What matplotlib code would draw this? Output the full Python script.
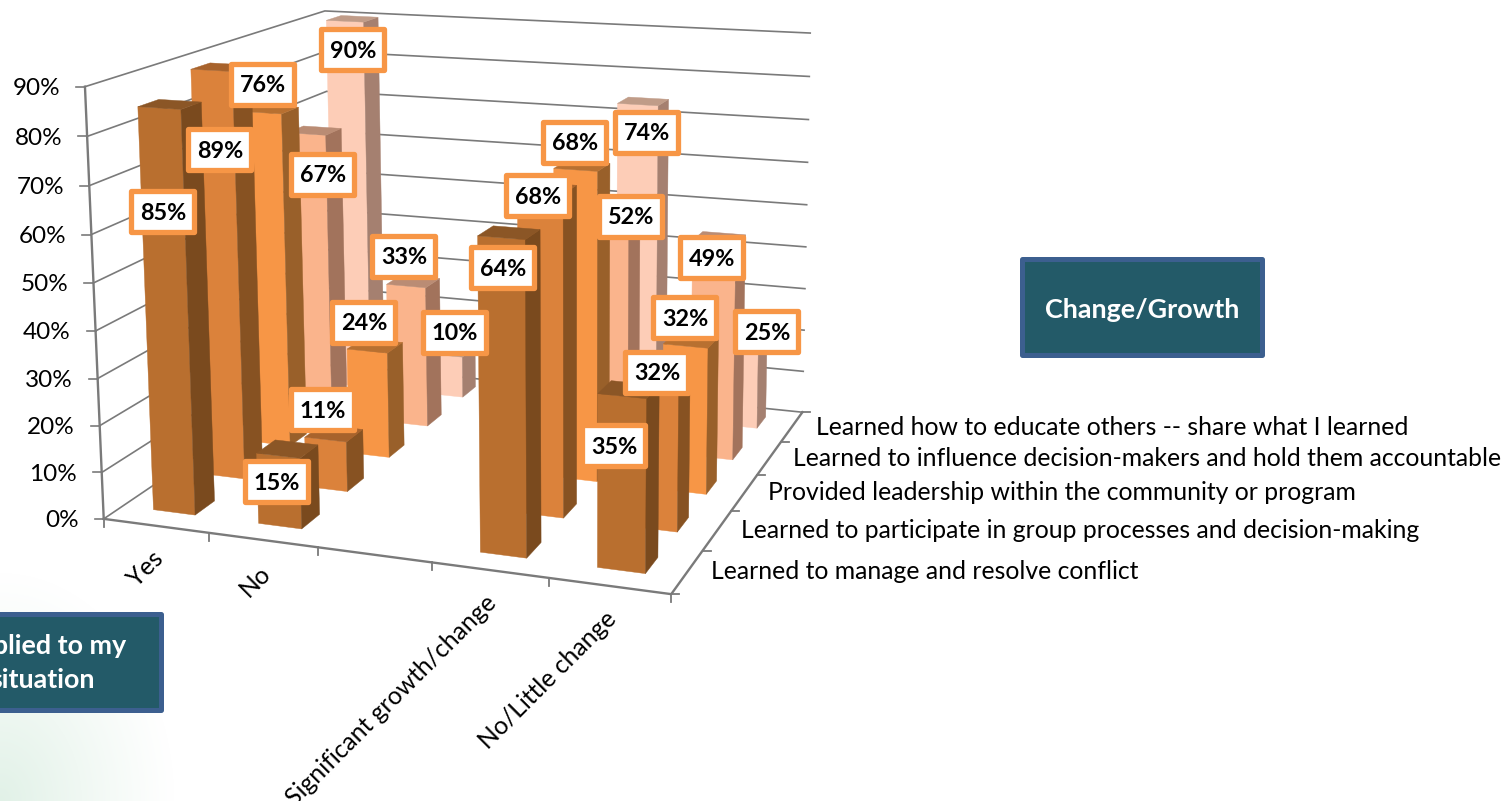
import numpy as np
import matplotlib
matplotlib.use("Agg")
import matplotlib.pyplot as plt
from matplotlib.patches import Polygon, Rectangle

# chart data, one list per depth row (None = empty category slot)
categories = ["Yes", "No", "", "Significant growth/change", "No/Little change"]
series_names = [
    "Learned to manage and resolve conflict",
    "Learned to participate in group processes and decision-making",
    "Provided leadership within the community or program",
    "Learned to influence decision-makers and hold them accountable",
    "Learned how to educate others -- share what I learned",
]
manage = [85, 15, None, 64, 35]
group = [89, 11, None, 68, 32]
leadership = [76, 24, None, 68, 32]
influence = [67, 33, None, 52, 49]
educate = [90, 10, None, 74, 25]
z_ticks = [0, 10, 20, 30, 40, 50, 60, 70, 80, 90]

series = [manage, group, leadership, influence, educate]

# front, side, top shade per series
shades = [
    ("#B96F2F", "#7A4A1E", "#8B5626"),
    ("#DB823B", "#875222", "#A8632C"),
    ("#F79646", "#99602A", "#B87030"),
    ("#FAB48C", "#A2735C", "#BA8C74"),
    ("#FDCDB7", "#A58070", "#C09C88"),
]
LINE = "#7A7A7A"
LABEL_EDGE = "#F79646"
FONT = "Lato"

# where Excel left the data labels (pixel centres), same shape as series
label_pos = [
    [(163, 211), (277, 481), None, (503, 267), (614, 445)],
    [(220, 149), (323, 409), None, (538, 195), (657, 372)],
    [(263, 84), (364, 322), None, (575, 142), (685, 317)],
    [(323, 174), (404, 256), None, (631, 216), (712, 257)],
    [(353, 49), (455, 332), None, (647, 132), (767, 331)],
]

# corners of the 3D box: (category, depth, value) -> pixel
world = [(0, 0, 0), (0, 0, 90), (5, 0, 0), (5, 5, 0), (5, 5, 90), (0, 5, 90), (0, 5, 0)]
pixel = [(103, 515), (85, 88), (672, 597), (802, 409), (810, 34), (325, 9), (333, 368)]


def fit_camera(world, pixel):
    # plain DLT with the last element fixed to 1
    rows, rhs = [], []
    for (x, y, z), (u, v) in zip(world, pixel):
        rows.append([x, y, z, 1, 0, 0, 0, 0, -u * x, -u * y, -u * z])
        rows.append([0, 0, 0, 0, x, y, z, 1, -v * x, -v * y, -v * z])
        rhs += [u, v]
    p = np.linalg.lstsq(np.array(rows, float), np.array(rhs, float), rcond=None)[0]
    return np.append(p, 1).reshape(3, 4)


CAM = fit_camera(world, pixel)


def project(x, y, z):
    u, v, w = CAM @ np.array([x, y, z, 1.0])
    return u / w, v / w


def draw_bar(ax, cat, depth, value, colors):
    x0, x1 = cat + 0.295, cat + 0.695
    y0, y1 = depth + 0.35, depth + 0.73
    front = [project(x0, y0, 0), project(x1, y0, 0), project(x1, y0, value), project(x0, y0, value)]
    side = [project(x1, y0, 0), project(x1, y1, 0), project(x1, y1, value), project(x1, y0, value)]
    top = [project(x0, y0, value), project(x1, y0, value), project(x1, y1, value), project(x0, y1, value)]
    for pts, c in zip((front, side, top), colors):
        ax.add_patch(Polygon(pts, closed=True, facecolor=c, edgecolor=c, lw=0.3, zorder=3))


def teal_box(ax, x0, y0, x1, y1):
    ax.add_patch(Rectangle((x0 + 2.5, y0 + 2.5), x1 - x0 - 5, y1 - y0 - 5, facecolor="#235A68",
                           edgecolor="#3C5F8F", lw=3.6, joinstyle="round", zorder=5))


fig = plt.figure(figsize=(15.06, 8.01), dpi=100, facecolor="white")
ax = fig.add_axes([0, 0, 1, 1])
ax.axis("off")

# faint green wash in the slide's bottom left corner
yy, xx = np.mgrid[560:801, 0:300]
dist = np.sqrt((xx / 175.0) ** 2 + ((801 - yy) / 230.0) ** 2)
wash = np.zeros(xx.shape + (4,))
wash[..., :3] = matplotlib.colors.to_rgb("#E1F1E7")
wash[..., 3] = np.clip(1 - dist, 0, 1) ** 1.1
ax.imshow(wash, extent=(0, 300, 801, 560), aspect="auto", zorder=0, interpolation="bilinear")
ax.set_xlim(0, 1506)
ax.set_ylim(801, 0)

# walls
n_cat = len(categories)
n_dep = len(series)
for z in z_ticks:
    a, b, c = project(0, 0, z), project(0, n_dep, z), project(n_cat, n_dep, z)
    ax.plot([a[0], b[0], c[0]], [a[1], b[1], c[1]], color=LINE, lw=1.2, zorder=1)
    ax.plot([a[0] - 9, a[0]], [a[1], a[1]], color=LINE, lw=1.2, zorder=1)
    ax.text(a[0] - 25, a[1] + 2, f"{z}%", ha="right", va="center", fontsize=17.5, family=FONT, color="black")

# axes lines along the floor and the value axis
a, b = project(0, 0, 0), project(0, 0, 90)
ax.plot([a[0], b[0]], [a[1], b[1]], color=LINE, lw=1.7, zorder=2)
a, b, c = project(0, 0, 0), project(n_cat, 0, 0), project(n_cat, n_dep, 0)
ax.plot([a[0], b[0], c[0]], [a[1], b[1], c[1]], color=LINE, lw=1.7, zorder=2)

for i in range(n_cat + 1):
    p = project(i, 0, 0)
    ax.plot([p[0], p[0]], [p[1], p[1] + 8], color=LINE, lw=1.3, zorder=2)
for i in range(n_dep + 1):
    p = project(n_cat, i, 0)
    ax.plot([p[0], p[0] + 8], [p[1], p[1]], color=LINE, lw=1.3, zorder=2)

for i, name in enumerate(categories):
    if name:
        p = project(i + 0.5, 0, 0)
        ax.text(p[0] + 3, p[1] + 29, name, rotation=45, ha="right", va="center", rotation_mode="anchor",
                fontsize=17.8, family=FONT, color="black")
for d, name in enumerate(series_names):
    p = project(n_cat, d + 0.5, 0)
    ax.text(p[0] + 24, p[1], name, ha="left", va="center", fontsize=17.8, family=FONT, color="black")

# bars, back row first and left to right
for d in range(n_dep - 1, -1, -1):
    for i, v in enumerate(series[d]):
        if v is not None:
            draw_bar(ax, i, d, v, shades[d])

# data labels on top of every bar
for d in range(n_dep - 1, -1, -1):
    for i, v in enumerate(series[d]):
        if v is None:
            continue
        cx, cy = label_pos[d][i]
        ax.add_patch(Rectangle((cx - 31.5, cy - 20), 63, 41, facecolor="white", edgecolor=LABEL_EDGE,
                               lw=3.8, joinstyle="round", zorder=6))
        ax.text(cx, cy + 2, f"{v}%", ha="center", va="center", fontsize=16.8, fontweight="bold",
                family=FONT, color="black", zorder=7)

teal_box(ax, 1020, 256, 1265, 357)
ax.text(1142.5, 309.5, "Change/Growth", ha="center", va="center", fontsize=19.4, fontweight="bold",
        family=FONT, color="white", zorder=6)
teal_box(ax, -82, 611, 163, 712)
ax.text(43, 663.5, "Applied to my\nsituation", ha="center", va="center", fontsize=19.4, fontweight="bold",
        family=FONT, color="white", linespacing=1.5, zorder=6)

fig.savefig("out.png", dpi=100)
